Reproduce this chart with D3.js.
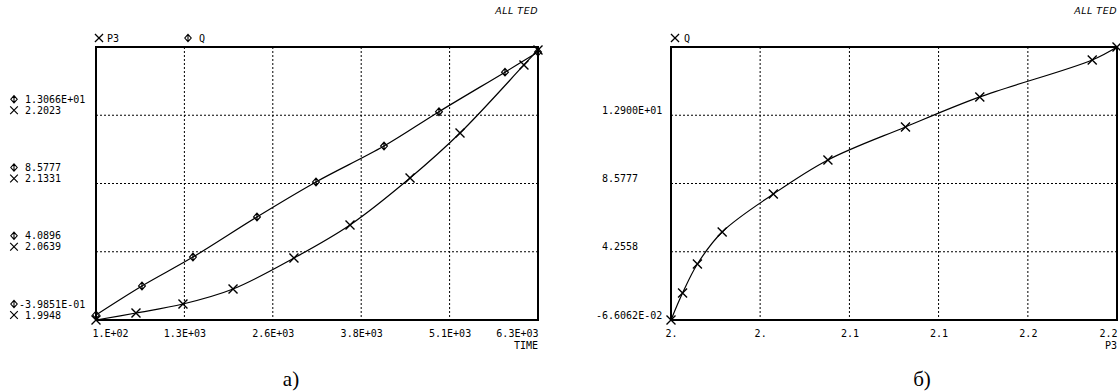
<!DOCTYPE html>
<html>
<head>
<meta charset="utf-8">
<script src="https://cdn.jsdelivr.net/npm/d3@7"></script>
<style>
  body { margin: 0; background: #fff; }
  svg { display: block; }
  text { font-family: "DejaVu Sans Mono", monospace; font-size: 10px; fill: #000; }
  .grid { stroke: #000; stroke-width: 1; stroke-dasharray: 2,2; }
  .frame { fill: none; stroke: #000; stroke-width: 2; }
  .curve { fill: none; stroke: #000; stroke-width: 1.2; }
  .mark { fill: none; stroke: #000; stroke-width: 1.4; }
  .caption { font-family: "Liberation Serif", serif; font-size: 21px; }
  .brand { font-family: "DejaVu Sans", sans-serif; font-style: italic; font-size: 9.5px; letter-spacing: 0.5px; }
</style>
</head>
<body>
<svg id="chart" width="1120" height="391"></svg>
<script>
// ---- data ----
// left panel: P3 and Q against TIME
var timeTicks  = [100, 1340, 2580, 3820, 5060, 6300];
var timeLabels = ["1.E+02", "1.3E+03", "2.6E+03", "3.8E+03", "5.1E+03", "6.3E+03"];

var qLeftTicks   = [-0.39851, 4.0896, 8.5777, 13.066, 17.5541];
var qLeftLabels  = ["-3.9851E-01", "4.0896", "8.5777", "1.3066E+01"];
var p3LeftTicks  = [1.9948, 2.0639, 2.1331, 2.2023, 2.2715];
var p3LeftLabels = ["1.9948", "2.0639", "2.1331", "2.2023"];

// P3 curve, sampled at its marker points
var p3Time = [100, 661, 1320, 2022, 2877, 3663, 4505, 5206, 6103, 6300];
var p3Vals = [1.9948, 2.0019, 2.0110, 2.0262, 2.0576, 2.0911, 2.1387, 2.1843, 2.2533, 2.2685];
// Q curve, sampled at its marker points
var qTime = [100, 745, 1460, 2358, 3186, 4140, 4911, 5837, 6300];
var qVals = [-0.066, 1.84, 3.74, 6.38, 8.68, 11.04, 13.3, 15.9, 17.222];

// right panel: Q against P3 (same marker points as P3 above)
var qAtP3 = [-0.066, 1.64, 3.48, 5.51, 7.91, 10.07, 12.16, 14.06, 16.4, 17.222];
var qRightTicks  = [-0.066062, 4.2558, 8.5777, 12.900, 17.222];
var qRightLabels = ["-6.6062E-02", "4.2558", "8.5777", "1.2900E+01"];
var p3RightTicks  = [1.9948, 2.0495, 2.1043, 2.1590, 2.2138, 2.2685];
var p3RightLabels = ["2.", "2.", "2.1", "2.1", "2.2", "2.2"];

var svg = d3.select("#chart");

var xMark = "M-4.5,-4.5L4.5,4.5M-4.5,4.5L4.5,-4.5";
var dMark = "M0,-4.5L4,0L0,4.5L-4,0ZM0,-4.5L0,4.5";

// ---------------- panel a) ----------------
var L = {left: 96, right: 538, top: 47, bottom: 320};

var xT = d3.scaleLinear().domain([timeTicks[0], timeTicks[timeTicks.length - 1]]).range([L.left, L.right]);
var yQ = d3.scaleLinear().domain([qLeftTicks[0], qLeftTicks[qLeftTicks.length - 1]]).range([L.bottom, L.top]);
var yP = d3.scaleLinear().domain([p3LeftTicks[0], p3LeftTicks[p3LeftTicks.length - 1]]).range([L.bottom, L.top]);

var ga = svg.append("g");

ga.selectAll(".vg").data(timeTicks.slice(1, -1)).enter().append("line")
    .attr("class", "grid")
    .attr("x1", function(d) { return xT(d); }).attr("x2", function(d) { return xT(d); })
    .attr("y1", L.top).attr("y2", L.bottom);

ga.selectAll(".hg").data(qLeftTicks.slice(1, -1)).enter().append("line")
    .attr("class", "grid")
    .attr("x1", L.left).attr("x2", L.right)
    .attr("y1", function(d) { return yQ(d); }).attr("y2", function(d) { return yQ(d); });

// bottom axis labels
var axA = ga.append("g")
    .attr("transform", "translate(0," + L.bottom + ")")
    .call(d3.axisBottom(xT).tickValues(timeTicks)
      .tickFormat(function(d, i) { return timeLabels[i]; })
      .tickSize(0).tickPadding(10));
axA.select(".domain").remove();
axA.selectAll("text").attr("font-size", 10).attr("font-family", "DejaVu Sans Mono")
    .attr("text-anchor", function(d, i) { return i == 0 ? "start" : (i == timeTicks.length - 1 ? "end" : "middle"); })
    .attr("dx", function(d, i) { return i == 0 ? -4 : 0; });

ga.append("text").attr("x", L.right).attr("y", L.bottom + 29).attr("text-anchor", "end").text("TIME");

// left two-line labels
qLeftLabels.forEach(function(lab, i) {
  var gy = yQ(qLeftTicks[i]);
  ga.append("path").attr("class", "mark").attr("d", dMark).attr("transform", "translate(14," + (gy - 16) + ") scale(0.8)");
  ga.append("text").attr("x", lab[0] == "-" ? 19 : 25).attr("y", gy - 12.5).text(lab);
  ga.append("path").attr("class", "mark").attr("d", xMark).attr("transform", "translate(14," + (gy - 5) + ") scale(0.85)");
  ga.append("text").attr("x", 25).attr("y", gy - 1.5).text(p3LeftLabels[i]);
});

// legend
ga.append("path").attr("class", "mark").attr("d", xMark).attr("transform", "translate(99,38) scale(0.9)");
ga.append("text").attr("x", 107).attr("y", 42).text("P3");
ga.append("path").attr("class", "mark").attr("d", dMark).attr("transform", "translate(188,38) scale(0.8)");
ga.append("text").attr("x", 199).attr("y", 42).text("Q");
ga.append("text").attr("class", "brand").attr("x", L.right).attr("y", 14).attr("text-anchor", "end").text("ALL TED");

var lineP = d3.line().curve(d3.curveCatmullRom.alpha(0.5))
    .x(function(d, i) { return xT(p3Time[i]); })
    .y(function(d) { return yP(d); });
var lineQ = d3.line().curve(d3.curveCatmullRom.alpha(0.5))
    .x(function(d, i) { return xT(qTime[i]); })
    .y(function(d) { return yQ(d); });

ga.append("path").attr("class", "curve").attr("d", lineP(p3Vals));
ga.append("path").attr("class", "curve").attr("d", lineQ(qVals));

ga.selectAll(".mp").data(p3Vals).enter().append("path")
    .attr("class", "mark").attr("d", xMark)
    .attr("transform", function(d, i) { return "translate(" + xT(p3Time[i]) + "," + yP(d) + ")"; });
ga.selectAll(".mq").data(qVals).enter().append("path")
    .attr("class", "mark").attr("d", dMark)
    .attr("transform", function(d, i) { return "translate(" + xT(qTime[i]) + "," + yQ(d) + ") scale(0.85)"; });

ga.append("rect").attr("class", "frame")
    .attr("x", L.left).attr("y", L.top).attr("width", L.right - L.left).attr("height", L.bottom - L.top);

ga.append("text").attr("class", "caption").attr("x", 291).attr("y", 386).attr("text-anchor", "middle").text("а)");

// ---------------- panel б) ----------------
var R = {left: 671, right: 1117, top: 47, bottom: 320};

var xP = d3.scaleLinear().domain([p3RightTicks[0], p3RightTicks[p3RightTicks.length - 1]]).range([R.left, R.right]);
var yR = d3.scaleLinear().domain([qRightTicks[0], qRightTicks[qRightTicks.length - 1]]).range([R.bottom, R.top]);

var gb = svg.append("g");

gb.selectAll(".vg").data(p3RightTicks.slice(1, -1)).enter().append("line")
    .attr("class", "grid")
    .attr("x1", function(d) { return xP(d); }).attr("x2", function(d) { return xP(d); })
    .attr("y1", R.top).attr("y2", R.bottom);

gb.selectAll(".hg").data(qRightTicks.slice(1, -1)).enter().append("line")
    .attr("class", "grid")
    .attr("x1", R.left).attr("x2", R.right)
    .attr("y1", function(d) { return yR(d); }).attr("y2", function(d) { return yR(d); });

var axB = gb.append("g")
    .attr("transform", "translate(0," + R.bottom + ")")
    .call(d3.axisBottom(xP).tickValues(p3RightTicks)
      .tickFormat(function(d, i) { return p3RightLabels[i]; })
      .tickSize(0).tickPadding(10));
axB.select(".domain").remove();
axB.selectAll("text").attr("font-size", 10).attr("font-family", "DejaVu Sans Mono")
    .attr("text-anchor", function(d, i) { return i == p3RightTicks.length - 1 ? "end" : "middle"; });

gb.append("text").attr("x", R.right).attr("y", R.bottom + 29).attr("text-anchor", "end").text("P3");

qRightLabels.forEach(function(lab, i) {
  var gy = yR(qRightTicks[i]);
  gb.append("text").attr("x", lab[0] == "-" ? 596 : 602).attr("y", gy - 1.5).text(lab);
});

gb.append("path").attr("class", "mark").attr("d", xMark).attr("transform", "translate(675,38) scale(0.9)");
gb.append("text").attr("x", 684).attr("y", 42).text("Q");
gb.append("text").attr("class", "brand").attr("x", R.right).attr("y", 14).attr("text-anchor", "end").text("ALL TED");

var lineR = d3.line().curve(d3.curveCatmullRom.alpha(0.5))
    .x(function(d, i) { return xP(p3Vals[i]); })
    .y(function(d) { return yR(d); });
gb.append("path").attr("class", "curve").attr("d", lineR(qAtP3));

gb.selectAll(".mr").data(qAtP3).enter().append("path")
    .attr("class", "mark").attr("d", xMark)
    .attr("transform", function(d, i) { return "translate(" + xP(p3Vals[i]) + "," + yR(d) + ")"; });

gb.append("rect").attr("class", "frame")
    .attr("x", R.left).attr("y", R.top).attr("width", R.right - R.left).attr("height", R.bottom - R.top);

gb.append("text").attr("class", "caption").attr("x", 922).attr("y", 386).attr("text-anchor", "middle").text("б)");
</script>
</body>
</html>
